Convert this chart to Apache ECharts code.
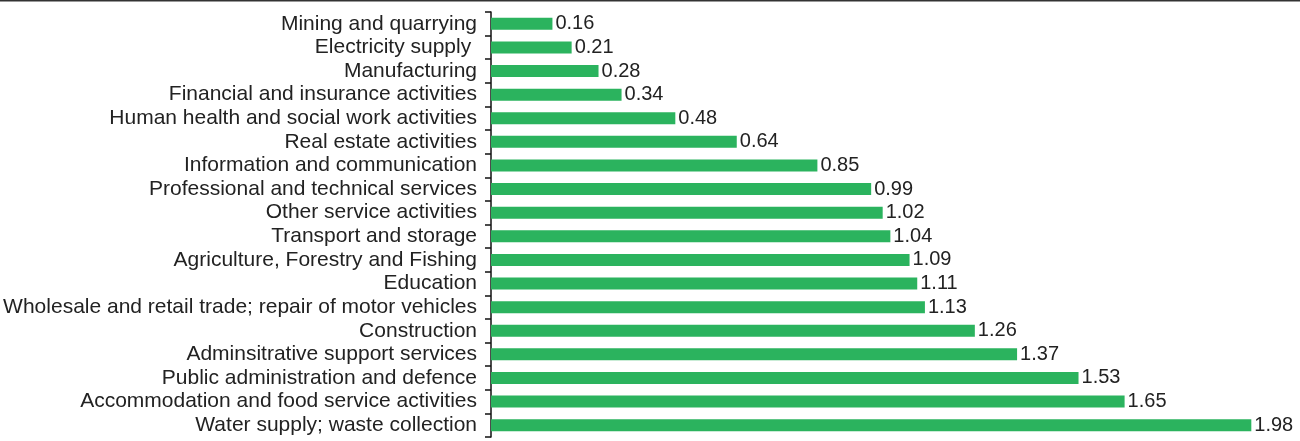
<!DOCTYPE html>
<html>
<head>
<meta charset="utf-8">
<script src="https://cdn.jsdelivr.net/npm/echarts@6/dist/echarts.min.js"></script>
<style>
html,body{margin:0;padding:0;background:#fff;}
#chart{width:1300px;height:441px;}
</style>
</head>
<body>
<div id="chart"></div>
<script>
const categories = [
  "Mining and quarrying",
  "Electricity supply ",
  "Manufacturing",
  "Financial and insurance activities",
  "Human health and social work activities",
  "Real estate activities",
  "Information and communication",
  "Professional and technical services",
  "Other service activities",
  "Transport and storage",
  "Agriculture, Forestry and Fishing",
  "Education",
  "Wholesale and retail trade; repair of motor vehicles",
  "Construction",
  "Adminsitrative support services",
  "Public administration and defence",
  "Accommodation and food service activities",
  "Water supply; waste collection"
];
const values = [0.16, 0.21, 0.28, 0.34, 0.48, 0.64, 0.85, 0.99, 1.02, 1.04, 1.09, 1.11, 1.13, 1.26, 1.37, 1.53, 1.65, 1.98];

const chart = echarts.init(document.getElementById('chart'), null, {renderer: 'canvas'});
const font = "'Liberation Sans', Arial, Helvetica, sans-serif";
chart.setOption({
  animation: false,
  textStyle: {fontFamily: font},
  graphic: [{
    type: 'rect', left: 0, top: 0,
    shape: {x: 0, y: 0, width: 1300, height: 1.5},
    style: {fill: '#333'}
  }],
  grid: {left: 491, top: 12, width: 768, height: 425, containLabel: false},
  xAxis: {
    type: 'value', min: 0, max: 2, show: false
  },
  yAxis: {
    type: 'category',
    data: categories,
    inverse: true,
    offset: 4,
    axisLine: {show: true, lineStyle: {color: '#111', width: 1.5}},
    axisTick: {show: true, inside: false, length: 6, interval: 0, lineStyle: {color: '#111', width: 1.5}},
    axisLabel: {fontSize: 21, color: '#222', margin: 10, interval: 0, hideOverlap: false, fontFamily: font}
  },
  series: [{
    type: 'bar',
    data: values,
    barWidth: 12,
    itemStyle: {color: '#2bb35e'},
    label: {
      show: true, position: 'right', distance: 3,
      fontSize: 20, color: '#222', fontFamily: font,
      formatter: p => p.value.toFixed(2)
    }
  }]
});
</script>
</body>
</html>
